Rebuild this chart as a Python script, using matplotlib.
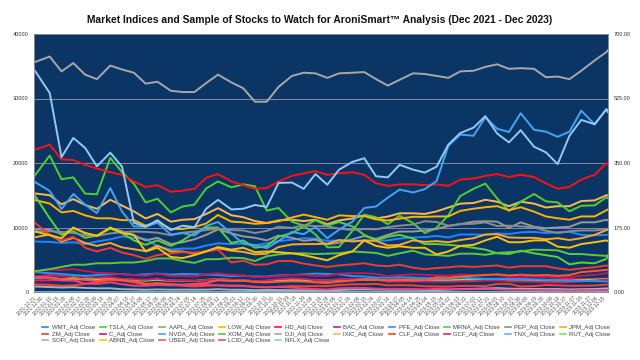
import matplotlib
matplotlib.use('Agg')
import matplotlib.pyplot as plt
import pandas as pd
from matplotlib.lines import Line2D

plt.rcParams['font.family'] = ['Liberation Sans', 'DejaVu Sans']

# ---------------- data ----------------
dates = pd.to_datetime([
    '2021-12-21', '2022-01-10', '2022-01-25', '2022-02-09', '2022-02-24', '2022-03-11', '2022-03-28',
    '2022-04-12', '2022-04-27', '2022-05-12', '2022-05-27', '2022-06-13', '2022-06-28', '2022-07-13',
    '2022-07-28', '2022-08-12', '2022-08-29', '2022-09-13', '2022-09-28', '2022-10-13', '2022-10-28',
    '2022-11-14', '2022-11-29', '2022-12-14', '2022-12-29', '2023-01-13', '2023-01-30', '2023-02-14',
    '2023-03-01', '2023-03-16', '2023-03-31', '2023-04-17', '2023-05-02', '2023-05-17', '2023-06-01',
    '2023-06-16', '2023-07-03', '2023-07-18', '2023-08-02', '2023-08-17', '2023-09-01', '2023-09-18',
    '2023-10-03', '2023-10-18', '2023-11-02', '2023-11-17', '2023-12-04', '2023-12-19', '2023-12-21'])

tick_dates = pd.bdate_range('2021-12-21', '2023-12-21')[::7]

# left axis (indices)
DJI = [35600, 36500, 34200, 35500, 33700, 33000, 35100, 34500, 34000, 32300,
       32600, 31200, 31000, 31000, 32400, 33700, 32500, 31600, 29500, 29500,
       31800, 33500, 34000, 33900, 33200, 33900, 34000, 34100, 33000, 32000,
       32900, 33900, 33800, 33500, 33200, 34200, 34300, 34900, 35300, 34600,
       34700, 34600, 33300, 33400, 33000, 34300, 35900, 37200, 37500]
IXIC = [15300, 15000, 13600, 14400, 13500, 12900, 14300, 13400, 12500, 11400,
        12100, 10900, 11200, 11300, 12100, 13000, 11900, 11600, 11000, 10700,
        11100, 11200, 11000, 11200, 10500, 11100, 11400, 11900, 11400, 11700,
        12200, 12200, 12100, 12500, 13100, 13700, 13800, 14300, 14000, 13300,
        14000, 13700, 13100, 13300, 13300, 14100, 14200, 15000, 15000]
GCF = [1800, 1800, 1850, 1835, 1905, 1985, 1940, 1975, 1890, 1825,
       1850, 1830, 1820, 1735, 1755, 1815, 1750, 1700, 1670, 1665,
       1645, 1775, 1765, 1810, 1815, 1920, 1925, 1850, 1840, 1920,
       1985, 2000, 2020, 1985, 1980, 1970, 1930, 1980, 1970, 1915,
       1965, 1950, 1840, 1970, 1985, 1985, 2040, 2045, 2060]
TNX = [1.46, 1.78, 1.78, 1.94, 1.97, 2.00, 2.46, 2.72, 2.83, 2.85,
       2.74, 3.37, 3.20, 2.96, 2.68, 2.84, 3.11, 3.42, 3.73, 3.95,
       4.01, 3.86, 3.75, 3.48, 3.83, 3.50, 3.55, 3.74, 4.00, 3.58,
       3.47, 3.60, 3.43, 3.57, 3.60, 3.77, 3.86, 3.78, 4.08, 4.28,
       4.18, 4.32, 4.80, 4.91, 4.67, 4.44, 4.26, 3.93, 3.89]
RUT = [2200, 2160, 1950, 2080, 1990, 1980, 2090, 1990, 1880, 1750,
       1890, 1720, 1710, 1720, 1880, 2010, 1870, 1780, 1690, 1720,
       1850, 1850, 1820, 1800, 1770, 1890, 1890, 1950, 1890, 1740,
       1800, 1780, 1760, 1780, 1780, 1880, 1890, 1950, 1960, 1860,
       1900, 1850, 1760, 1740, 1740, 1830, 1900, 2030, 2010]

# right axis (stocks)
WMT = [137, 136, 133, 135, 130, 137, 143, 151, 147, 144,
       124, 115, 118, 118, 126, 132, 130, 132, 127, 132,
       138, 142, 146, 145, 139, 140, 139, 139, 139, 140,
       145, 148, 149, 152, 148, 156, 156, 155, 159, 157,
       162, 163, 160, 162, 163, 155, 154, 155, 155]
TSLA = [313, 370, 306, 311, 267, 265, 364, 325, 294, 243,
        253, 216, 232, 237, 281, 300, 284, 292, 287, 221,
        228, 191, 180, 156, 121, 122, 166, 210, 203, 184,
        207, 187, 160, 174, 208, 260, 280, 294, 254, 220,
        245, 266, 246, 243, 219, 234, 235, 257, 254]
AAPL = [170, 169, 157, 173, 160, 153, 173, 165, 154, 140,
        147, 130, 135, 143, 155, 170, 159, 151, 147, 140,
        153, 147, 139, 142, 129, 134, 143, 152, 144, 155,
        164, 164, 167, 171, 179, 184, 191, 192, 191, 174,
        189, 177, 173, 175, 177, 189, 189, 196, 194]
LOW = [250, 240, 216, 220, 208, 200, 200, 195, 195, 180,
       190, 171, 171, 176, 186, 209, 191, 189, 185, 187,
       192, 202, 210, 203, 196, 208, 206, 206, 197, 194,
       199, 204, 204, 205, 205, 220, 226, 230, 233, 222,
       230, 218, 205, 200, 196, 205, 205, 222, 224]
HD = [385, 400, 360, 358, 345, 335, 325, 318, 300, 285,
      290, 272, 275, 280, 310, 320, 300, 290, 280, 282,
      300, 315, 322, 328, 318, 322, 325, 318, 295, 288,
      292, 292, 290, 292, 288, 305, 308, 315, 320, 312,
      318, 312, 295, 280, 285, 305, 318, 350, 347]
BAC = [42, 46, 43, 46, 41, 39, 40, 35.5, 34.5, 33,
       36, 31, 31, 30, 32.5, 35, 33, 32, 29.5, 31,
       35, 37, 36, 32, 32.5, 34, 35, 35, 34, 28,
       28.5, 29, 28.5, 28, 28, 29, 29, 31, 31.5, 29,
       28.5, 28, 26.5, 26, 27, 29, 31, 34, 33.5]
PFE = [54, 51, 49, 46, 44, 46, 48, 49, 46, 48,
       50, 47, 49, 48, 47, 46, 43, 44, 42, 42,
       45, 46, 48, 50, 49, 48, 43, 42, 39, 39,
       40, 39, 37.5, 38, 37.5, 40, 37, 36, 36, 35.5,
       35, 34, 33, 32, 30.5, 30, 29.5, 28.5, 28.5]
MRNA = [265, 200, 155, 165, 147, 153, 172, 160, 140, 128,
        140, 125, 140, 160, 175, 175, 133, 140, 120, 125,
        150, 160, 178, 195, 180, 190, 178, 155, 140, 150,
        155, 145, 130, 130, 128, 125, 120, 115, 105, 103,
        112, 105, 100, 95, 75, 80, 78, 90, 100]
PEP = [163, 165, 163, 160, 154, 152, 159, 162, 164, 163,
       161, 154, 161, 164, 168, 172, 168, 167, 160, 166,
       177, 174, 181, 179, 178, 172, 168, 171, 170, 176,
       180, 183, 192, 190, 180, 184, 185, 189, 179, 180,
       178, 175, 166, 160, 165, 167, 167, 170, 169]
JPM = [148, 156, 137, 147, 133, 125, 133, 121, 116, 111,
       126, 110, 110, 104, 111, 119, 112, 109, 102, 104,
       122, 129, 130, 130, 131, 141, 137, 140, 139, 126,
       128, 140, 136, 138, 135, 141, 146, 156, 157, 148,
       147, 147, 143, 146, 141, 146, 155, 168, 168]
ZM = [190, 155, 140, 150, 120, 110, 120, 107, 100, 90,
      100, 105, 108, 107, 110, 115, 80, 85, 74, 75,
      84, 84, 77, 72, 68, 72, 75, 78, 72, 70,
      74, 66, 62, 65, 67, 70, 68, 70, 72, 66,
      70, 70, 70, 64, 60, 64, 67, 72, 71]
C = [55, 61, 60, 62, 57, 52, 51, 48, 46, 44,
     50, 43, 43.5, 42, 48.5, 50.5, 46.5, 45, 40, 40.5,
     43.5, 46.5, 46.5, 44, 44, 50, 51, 51, 49, 43,
     46, 48, 46.5, 45, 44.5, 47.5, 46, 46.5, 46, 41,
     41, 42, 40, 40, 40, 44, 46.5, 51, 51]
NVDA = [300, 274, 225, 266, 237, 214, 282, 218, 178, 177,
        188, 156, 160, 153, 179, 190, 159, 131, 127, 119,
        138, 163, 157, 176, 146, 169, 191, 228, 232, 256,
        278, 270, 279, 301, 397, 427, 424, 474, 443, 434,
        485, 440, 435, 421, 435, 492, 455, 496, 490]
XOM = [56, 62, 68, 74, 74, 78, 78, 80, 80, 84,
       91, 91, 84, 79, 89, 89, 93, 92, 84, 97,
       102, 105, 105, 103, 104, 105, 110, 108, 106, 98,
       105, 112, 102, 100, 98, 104, 104, 101, 106, 108,
       110, 115, 114, 113, 103, 103, 100, 98, 99]
CLF = [21, 19.5, 17, 18, 22, 27, 32, 31, 26, 20,
       24, 21, 17, 15, 17, 18, 18, 17, 14, 13,
       14, 16, 15.5, 16, 16, 19, 21, 21, 22, 18,
       18.5, 18, 15.5, 15, 14.5, 16.5, 16.5, 16, 22, 22,
       15, 16, 19, 18, 17, 17, 17.5, 20, 20]
SOFI = [15, 13.5, 12, 13, 11, 10, 10, 7.5, 7, 6,
        7, 6.2, 6.5, 6.2, 6.4, 7.5, 6.1, 6, 5, 5.3,
        5.2, 4.8, 4.7, 4.8, 4.6, 5.5, 6.8, 7.2, 6.5, 6,
        6, 6, 5.2, 5.3, 6, 8, 8.5, 9.5, 10.5, 9,
        8.5, 8.3, 8, 8, 7, 7.5, 8, 9.8, 9.9]
ABNB = [165, 154, 146, 175, 160, 152, 175, 160, 155, 110,
        120, 95, 92, 100, 110, 122, 115, 120, 108, 110,
        108, 105, 100, 93, 86, 100, 110, 140, 125, 120,
        124, 120, 120, 102, 110, 125, 128, 140, 150, 135,
        135, 140, 140, 123, 120, 130, 135, 140, 138]
UBER = [41, 40, 35, 40, 33, 30, 35, 32, 30, 22,
        23, 21, 20, 22, 24, 32, 30, 31, 27, 26,
        28, 29, 28.5, 26, 24.5, 28, 31, 35, 34, 31,
        32, 31, 32, 40, 39, 42, 44, 46, 48, 45,
        47, 45, 46, 44, 46, 54, 57, 60, 61]
LCID = [40, 37, 31, 31, 23, 22, 26, 21, 17, 17,
        19, 18, 18, 19, 20, 18, 16, 16, 14, 12.5,
        14, 12, 9.5, 8, 6.8, 10, 11, 11, 9, 8,
        8, 8, 7.2, 8.5, 7.5, 7.2, 7.3, 7.8, 7, 6,
        6, 5.5, 5, 4.8, 4, 4.5, 4.8, 5.7, 5.8]
NFLX = [604, 540, 366, 418, 391, 341, 378, 340, 188, 177,
        195, 168, 180, 176, 226, 250, 224, 226, 236, 231,
        296, 297, 280, 320, 291, 332, 353, 363, 314, 311,
        345, 332, 324, 340, 400, 431, 446, 477, 430, 406,
        439, 394, 379, 347, 424, 467, 455, 496, 488]

left_ticks = [0, 10000, 20000, 30000, 40000]
right_ticks = [0, 175, 350, 525, 700]

# series order, colour, axis (L = indices, R = stocks)
series = [
    ('WMT', WMT, '#1E88FF', 'R'), ('TSLA', TSLA, '#4CD22A', 'R'), ('AAPL', AAPL, '#9A9A9A', 'R'),
    ('LOW', LOW, '#FFB300', 'R'), ('HD', HD, '#FF1010', 'R'), ('BAC', BAC, '#D81B60', 'R'),
    ('PFE', PFE, '#2196F3', 'R'), ('MRNA', MRNA, '#55D630', 'R'), ('PEP', PEP, '#8C8C8C', 'R'),
    ('JPM', JPM, '#FFA726', 'R'), ('ZM', ZM, '#F43A2E', 'R'), ('C', C, '#C2185B', 'R'),
    ('NVDA', NVDA, '#42A5F5', 'R'), ('XOM', XOM, '#5CC83A', 'R'), ('DJI', DJI, '#A8A8A8', 'L'),
    ('IXIC', IXIC, '#FFB84D', 'L'), ('CLF', CLF, '#FF3D2E', 'R'), ('GCF', GCF, '#E91E63', 'L'),
    ('TNX', TNX, '#64B5F6', 'L'), ('RUT', RUT, '#7FE05A', 'L'), ('SOFI', SOFI, '#B0B0B0', 'R'),
    ('ABNB', ABNB, '#FFC107', 'R'), ('UBER', UBER, '#FF5733', 'R'), ('LCID', LCID, '#EC407A', 'R'),
    ('NFLX', NFLX, '#90CAF9', 'R'),
]

# ---------------- figure ----------------
fig = plt.figure(figsize=(6.4, 3.6), dpi=100)
fig.patch.set_facecolor('white')
ax = fig.add_axes([34 / 640, 68 / 360, 574 / 640, 258 / 360])
ax2 = ax.twinx()
ax.set_facecolor('#0B3565')
ax2.patch.set_visible(False)

handles = {}
for name, vals, col, side in series:
    target = ax if side == 'L' else ax2
    target.plot(dates, vals, color=col, lw=1.4, solid_joinstyle='round')
    handles[name] = Line2D([], [], color=col, lw=1.2)

ax.set_ylim(0, 40000)
ax2.set_ylim(0, 700)
ax.set_xlim(dates[0], dates[-1])

ax.set_yticks(left_ticks)
ax.set_yticklabels([f'{v:d}' for v in left_ticks], fontsize=4, color='#333333')
ax2.set_yticks(right_ticks)
ax2.set_yticklabels([f'{v:.2f}' for v in right_ticks], fontsize=4, color='#333333')
ax.tick_params(axis='y', length=0, pad=4)
ax2.tick_params(axis='y', length=0, pad=4)

ax.set_xticks(tick_dates)
ax.set_xticklabels([d.strftime('%Y-%m-%d') for d in tick_dates], rotation=45, ha='right',
                   rotation_mode='anchor', fontsize=3.6, color='#555555')
ax.tick_params(axis='x', length=0, pad=2)

ax.grid(axis='y', color='#7F8DA3', lw=0.7)
ax.grid(axis='x', visible=False)
ax.set_axisbelow(True)
for a in (ax, ax2):
    for s in a.spines.values():
        s.set_color('#8A8A8A')
        s.set_linewidth(0.6)

fig.text(0.5, 0.945, 'Market Indices and Sample of Stocks to Watch for AroniSmart\u2122 Analysis (Dec 2021 - Dec 2023)',
         ha='center', va='center', fontsize=7.4, fontweight='bold', color='#111111')

# legend: 10 columns, filled row by row as in the reference
row_names = [[s[0] for s in series[0:10]], [s[0] for s in series[10:20]], [s[0] for s in series[20:25]]]
order = []
for c in range(10):
    for r in range(3):
        if c < len(row_names[r]):
            order.append(row_names[r][c])
fig.legend([handles[n] for n in order], [f'{n}_Adj Close' for n in order],
           ncol=10, loc='upper center', bbox_to_anchor=(0.51, 0.097), frameon=False,
           fontsize=4.3, handlelength=1.0, handletextpad=0.6, columnspacing=0.75,
           labelspacing=0.2, borderpad=0, borderaxespad=0, labelcolor='#444444')

fig.savefig('out.png', dpi=100)
